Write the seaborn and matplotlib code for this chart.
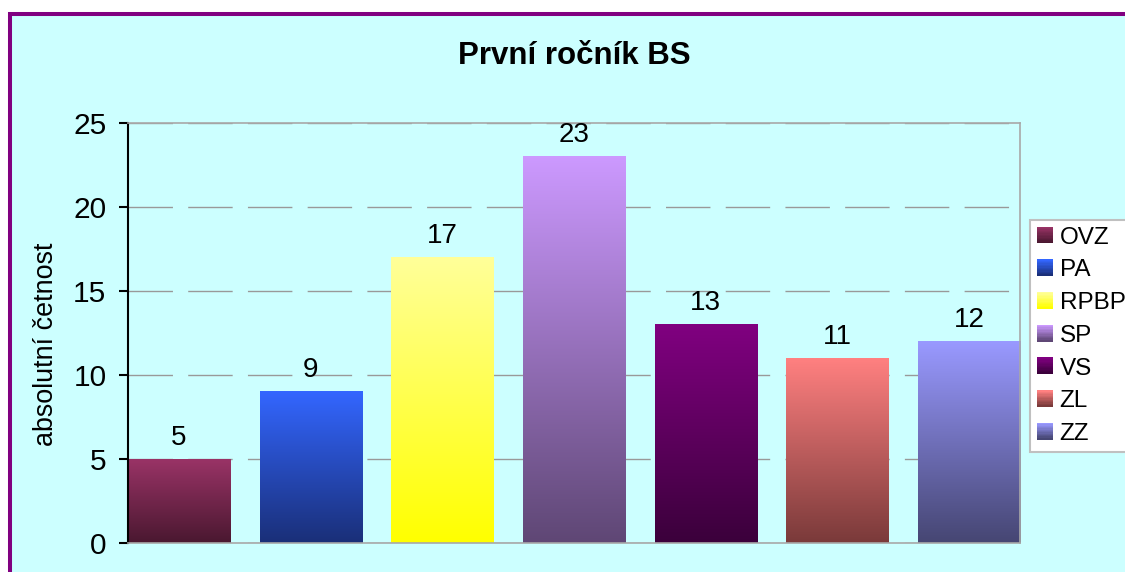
import numpy as np
import matplotlib
matplotlib.use("Agg")
import matplotlib.pyplot as plt
from matplotlib.colors import to_rgb
from matplotlib.patches import Rectangle
from matplotlib.legend_handler import HandlerBase
import seaborn as sns

# data
categories = ["OVZ", "PA", "RPBP", "SP", "VS", "ZL", "ZZ"]
counts = [5, 9, 17, 23, 13, 11, 12]
top_colors = ["#993366", "#3366ff", "#ffff99", "#cc99ff", "#800080", "#ff8080", "#9999ff"]
bottom_colors = ["#4a1830", "#1a2f78", "#ffff00", "#5f4775", "#3b003b", "#7a3a3a", "#464673"]
yticks = [0, 5, 10, 15, 20, 25]

sns.set_style("white")
plt.rcParams["font.family"] = ["Liberation Sans", "DejaVu Sans"]
plt.rcParams["text.color"] = "black"
plt.rcParams["axes.labelcolor"] = "black"
plt.rcParams["ytick.color"] = "black"
plt.rcParams["xtick.color"] = "black"

W, H = 1125, 572
fig = plt.figure(figsize=(W / 100, H / 100), dpi=100)
fig.patch.set_facecolor("white")

# chart area with purple border
fig.add_artist(Rectangle((9.5 / W, -0.1), 1.2, 1 - 13.5 / H + 0.1,
                         transform=fig.transFigure, facecolor="#ccffff",
                         edgecolor="#800080", linewidth=2.9, zorder=0))

ax = fig.add_axes([128 / W, 1 - 543 / H, 892 / W, 420 / H])
ax.set_facecolor("none")

bw = 102 / 131.5
sns.barplot(x=categories, y=counts, hue=categories, palette=top_colors,
            width=bw, legend=False, ax=ax, saturation=1, zorder=2)


def gradient(c1, c2, n=100):
    a = np.array(to_rgb(c1))
    b = np.array(to_rgb(c2))
    t = np.linspace(0, 1, n)[:, None]
    return (a + (b - a) * t)[:, None, :]


# gradient fill for each bar
for i, p in enumerate(ax.patches):
    x0, w, h = p.get_x(), p.get_width(), p.get_height()
    p.set_facecolor("none")
    p.set_edgecolor("none")
    ax.imshow(gradient(top_colors[i], bottom_colors[i]), extent=[x0, x0 + w, 0, h],
              aspect="auto", zorder=2, interpolation="bilinear")

for c in ax.containers:
    ax.bar_label(c, padding=6, fontsize=20, color="black")

ax.set_xlim(-bw / 2, len(categories) - 1 + bw / 2)
ax.set_ylim(0, 25)
ax.set_yticks(yticks)
ax.set_xticks([])
ax.set_xlabel("")
ax.tick_params(axis="y", direction="out", length=6.5, width=1.5, pad=9,
               labelsize=21.5, left=True, color="black", labelcolor="black")

ax.set_axisbelow(True)
ax.yaxis.grid(True, color="#999999", linewidth=1, linestyle=(0, (32, 11)))
for s in ["top", "right", "bottom"]:
    ax.spines[s].set_color("#a8a8a8")
    ax.spines[s].set_linewidth(1.2)
    ax.spines[s].set_visible(True)
ax.spines["left"].set_color("black")
ax.spines["left"].set_linewidth(1.5)

fig.text(574 / W, 1 - 64 / H, "První ročník BS", ha="center", va="baseline",
         fontsize=22.5, fontweight="bold", color="black")
fig.text(46 / W, 1 - 344 / H, "absolutní četnost", ha="center", va="center",
         rotation=90, fontsize=19.4, color="black")


class HandlerGradient(HandlerBase):
    def create_artists(self, legend, orig_handle, xdescent, ydescent,
                       width, height, fontsize, trans):
        c1, c2 = orig_handle
        n = 12
        arts = []
        cols = gradient(c1, c2, n)[:, 0, :]
        for k in range(n):
            arts.append(Rectangle((-xdescent, -ydescent + height * (1 - (k + 1) / n)),
                                  width, height / n + 0.3, facecolor=cols[k],
                                  edgecolor="none", transform=trans))
        return arts


handles = list(zip(top_colors, bottom_colors))
leg = fig.legend(handles, categories, handler_map={tuple: HandlerGradient()},
                 loc="upper left", bbox_to_anchor=(1030 / W, 1 - 220 / H),
                 bbox_transform=fig.transFigure, fontsize=17.5, frameon=True,
                 fancybox=False, framealpha=1, edgecolor="#c0c0c0",
                 borderaxespad=0, borderpad=0.28, handlelength=0.66,
                 handleheight=0.66, handletextpad=0.28, labelspacing=0.44)
leg.get_frame().set_linewidth(1.5)
leg.get_frame().set_facecolor("white")
for t in leg.get_texts():
    t.set_color("black")

fig.savefig("out.png", dpi=100)
